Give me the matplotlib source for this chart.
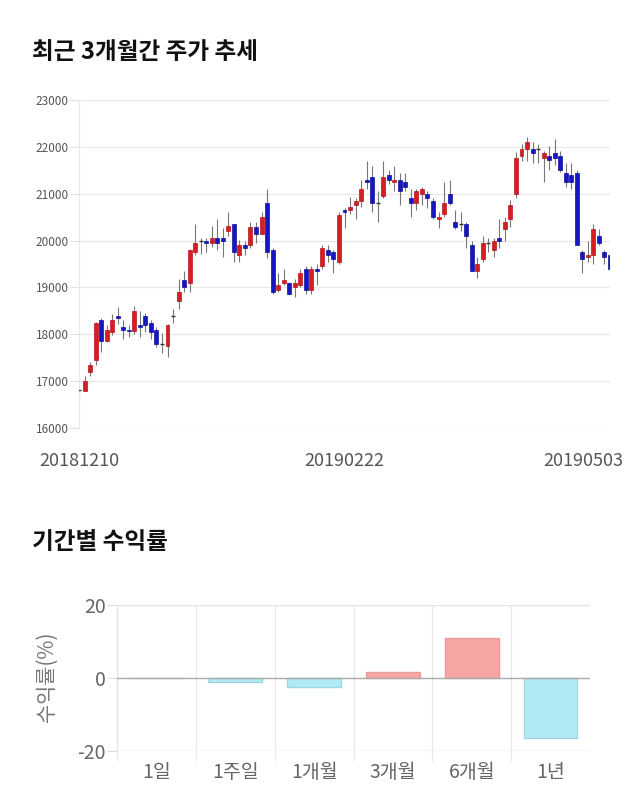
import numpy as np
import matplotlib
matplotlib.use("Agg")
import matplotlib.pyplot as plt
from matplotlib.transforms import ScaledTranslation

plt.rcParams['font.family'] = ['Noto Sans CJK KR', 'DejaVu Sans']

# 일봉 데이터 (2018-12-10 ~ 2019-05-03), 그림에서 읽은 값
opens = [16810, 16790, 17200, 17450, 18300, 17850, 18050, 18400, 18150, 18100,
         18060, 18200, 18400, 18250, 18100, 17800, 17750, 18400, 18700, 19150,
         19100, 19750, 20000, 20000, 19950, 20050, 20050, 20200, 20350, 19700,
         19900, 19900, 20300, 20150, 20800, 19800, 18950, 19100, 19100, 19000,
         19050, 19400, 18950, 19400, 19450, 19800, 19750, 19550, 20650, 20650,
         20750, 20850, 21300, 21350, 20800, 20950, 21400, 21250, 21300, 21250,
         20900, 20800, 21000, 21000, 20850, 20460, 20560, 21000, 20400, 20350,
         20350, 19900, 19350, 19600, 19950, 19800, 20050, 20250, 20450, 21000,
         21800, 21960, 21960, 21960, 21760, 21810, 21860, 21810, 21450, 21400,
         21450, 19750, 19650, 19700, 20100, 19750, 19700]
highs = [16850, 17100, 17410, 18270, 18350, 18190, 18440, 18580, 18300, 18190,
         18600, 18500, 18460, 18300, 18150, 18020, 18210, 18550, 19190, 19350,
         19810, 20350, 20050, 20050, 20310, 20460, 20260, 20610, 20350, 20010,
         20000, 20400, 20400, 20610, 21100, 19850, 19310, 19400, 19120, 19190,
         19400, 19450, 19450, 19500, 19900, 19900, 19800, 20610, 20690, 20940,
         20910, 21300, 21700, 21600, 21050, 21700, 21500, 21600, 21450, 21450,
         21100, 21100, 21150, 21050, 20900, 20600, 21250, 21300, 20650, 20600,
         20400, 20000, 19650, 20100, 20050, 20050, 20460, 20510, 20860, 21900,
         22060, 22210, 22110, 22060, 21910, 22010, 22160, 21910, 21660, 21660,
         21500, 19800, 20000, 20350, 20250, 19800, 19800]
lows = [16600, 16780, 17110, 17340, 17620, 17840, 17980, 18230, 17910, 17950,
        18000, 17950, 18050, 17910, 17730, 17600, 17520, 18250, 18550, 18900,
        18900, 19690, 19710, 19750, 19860, 19800, 19650, 20100, 19550, 19550,
        19700, 19850, 19950, 20150, 19620, 18850, 18900, 19050, 18830, 18800,
        19000, 18850, 18850, 19050, 19400, 19550, 19300, 19500, 20260, 20560,
        20450, 20710, 21100, 20600, 20400, 20900, 21200, 21050, 20750, 21050,
        20500, 20650, 20750, 20700, 20450, 20260, 20510, 20750, 20250, 20200,
        19850, 19340, 19200, 19550, 19750, 19650, 19850, 20000, 20300, 20900,
        21700, 21700, 21650, 21650, 21250, 21500, 21610, 21460, 21150, 21100,
        19900, 19300, 19550, 19500, 19900, 19500, 19350]
closes = [16810, 17000, 17350, 18250, 17850, 18100, 18300, 18350, 18100, 18060,
          18500, 18150, 18200, 18050, 17800, 17800, 18200, 18400, 18900, 19000,
          19800, 19950, 20000, 19950, 20050, 19950, 20000, 20310, 19750, 19900,
          19850, 20300, 20150, 20500, 19750, 18900, 19050, 19150, 18850, 19100,
          19300, 18950, 19400, 19350, 19850, 19700, 19600, 20550, 20600, 20710,
          20850, 21100, 21250, 20800, 20800, 21350, 21300, 21300, 21050, 21150,
          20800, 21050, 21100, 20900, 20500, 20510, 20800, 20800, 20300, 20350,
          20100, 19350, 19500, 19950, 19950, 20000, 20000, 20400, 20750, 21760,
          21960, 22110, 21860, 21960, 21860, 21710, 21760, 21500, 21250, 21250,
          19900, 19600, 19700, 20250, 19950, 19650, 19400]
date_labels = ["20181210", "20190222", "20190503"]
date_index = [0, 48, 96]

# 기간별 수익률
periods = ["1일", "1주일", "1개월", "3개월", "6개월", "1년"]
returns = [0.0, -1.1, -2.6, 1.7, 11.0, -16.5]

fig = plt.figure(figsize=(6.4, 8.1), dpi=100)

fig.text(32/640, 1 - 52/810, "최근 3개월간 주가 추세", fontsize=17,
         fontweight='bold', va='center', ha='left', color='#111111')
fig.text(32/640, 1 - 542/810, "기간별 수익률", fontsize=17,
         fontweight='bold', va='center', ha='left', color='#111111')

# --- 캔들 차트 ---
ax = fig.add_axes([79/640, 1 - 428/810, 531/640, 328/810])
o = np.array(opens)
h = np.array(highs)
l = np.array(lows)
c = np.array(closes)
idx = np.arange(len(o))

up = c > o
down = c < o
flat = c == o

ax.vlines(idx, l, h, color='#777777', linewidth=0.8, zorder=2)
ax.bar(idx[up], (c - o)[up], bottom=o[up], width=0.72,
       color='#d41e24', edgecolor='#b8161b', linewidth=0.5, zorder=3)
ax.bar(idx[down], (o - c)[down], bottom=c[down], width=0.72,
       color='#1616c4', edgecolor='#10109a', linewidth=0.5, zorder=3)
ax.hlines(c[flat], idx[flat] - 0.38, idx[flat] + 0.38, color='#333333',
          linewidth=1.0, zorder=3)

ax.set_xlim(0, len(o) - 1)
ax.set_ylim(16000, 23000)
ax.set_yticks(np.arange(16000, 23001, 1000))
ax.yaxis.grid(True, color='#e8e8e8', linewidth=0.9)
ax.set_axisbelow(True)
for s in ['top', 'right', 'bottom']:
    ax.spines[s].set_visible(False)
ax.spines['left'].set_color('#e8e8e8')
ax.tick_params(axis='y', length=6.5, color='#e0e0e0', labelsize=8.5,
               labelcolor='#555555', pad=1)
ax.set_xticks(date_index)
ax.set_xticklabels(date_labels)
ax.tick_params(axis='x', length=0, labelsize=13, labelcolor='#555555', pad=17)
last = ax.get_xticklabels()[-1]
last.set_transform(last.get_transform() +
                   ScaledTranslation(-19/72, 0, fig.dpi_scale_trans))

# --- 수익률 막대 ---
ax2 = fig.add_axes([117/640, 1 - 751/810, 473/640, 146/810])
xpos = np.arange(len(periods))
vals = np.array(returns)
fills = ['#f7a6a6' if v > 0 else '#b1eaf2' for v in vals]
edges = ['#e99a9a' if v > 0 else '#9fd6df' for v in vals]
ax2.bar(xpos, vals, width=0.68, color=fills, edgecolor=edges, linewidth=1, zorder=3)

ax2.set_xlim(-0.5, len(periods) - 0.5)
ax2.set_ylim(-20, 20)
ax2.set_yticks([-20, 0, 20])
ax2.set_yticklabels(["-20", "0", "20"])
ax2.tick_params(axis='y', length=7, color='#dddddd', labelsize=14,
                labelcolor='#666666', pad=1)
ax2.axhline(20, color='#e3e3e3', linewidth=1, zorder=1)
ax2.axhline(-20, color='#cccccc', linewidth=1, zorder=1)
ax2.axhline(0, color='#aaaaaa', linewidth=1, zorder=4)

ax2.set_xticks(np.arange(-0.5, len(periods) - 0.6, 1.0))
ax2.set_xticklabels([])
ax2.set_xticks(xpos, minor=True)
ax2.set_xticklabels(periods, minor=True)
ax2.xaxis.grid(True, which='major', color='#e8e8e8', linewidth=0.9)
ax2.tick_params(axis='x', which='major', length=7, color='#e8e8e8')
ax2.tick_params(axis='x', which='minor', length=0, labelsize=14,
                labelcolor='#666666', pad=8)
for s in ['top', 'right', 'bottom']:
    ax2.spines[s].set_visible(False)
ax2.spines['left'].set_color('#e3e3e3')

fig.text(47/640, 1 - 677/810, "수익률(%)", rotation=90, fontsize=15,
         color='#777777', va='center', ha='center')

fig.savefig("out.png", dpi=100)
